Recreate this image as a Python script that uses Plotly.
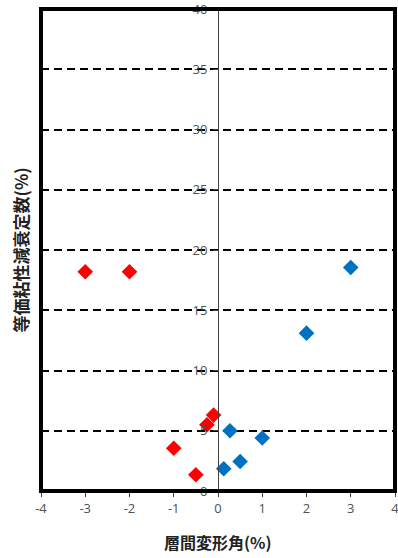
import plotly.graph_objects as go

# Data
red_x = [-3.0, -2.0, -1.0, -0.5, -0.25, -0.1]
red_y = [18.2, 18.2, 3.55, 1.35, 5.5, 6.3]
blue_x = [0.13, 0.27, 0.5, 1.0, 2.0, 3.0]
blue_y = [1.85, 5.0, 2.45, 4.4, 13.1, 18.55]

x_ticks = [-4, -3, -2, -1, 0, 1, 2, 3, 4]
y_ticks = [0, 5, 10, 15, 20, 25, 30, 35, 40]
x_title = "層間変形角(%)"
y_title = "等価粘性減衰定数(%)"

tick_font = dict(family="Open Sans, Liberation Sans, sans-serif", size=13, color="#505050")
x_title_font = dict(family="Noto Sans CJK JP", size=16, color="#222222", weight="bold")
y_title_font = dict(family="Noto Sans CJK JP", size=17, color="#222222", weight="bold")

fig = go.Figure()
fig.add_trace(go.Scatter(x=red_x, y=red_y, mode="markers",
                         marker=dict(symbol="diamond", size=12, color="#FF0000"),
                         showlegend=False))
fig.add_trace(go.Scatter(x=blue_x, y=blue_y, mode="markers",
                         marker=dict(symbol="diamond", size=12, color="#0070C0"),
                         showlegend=False))

fig.update_layout(
    width=398, height=558,
    margin=dict(l=41, r=3, t=9, b=67),
    paper_bgcolor="white", plot_bgcolor="white",
    xaxis=dict(range=[-4, 4], tickvals=x_ticks, ticktext=[str(v) for v in x_ticks],
               automargin=False, ticklabeloverflow="allow",
               showgrid=False, zeroline=False, showline=False,
               ticks="outside", ticklen=5, tickcolor="#404040", tickwidth=1,
               tickfont=tick_font),
    yaxis=dict(range=[0, 40], tickvals=y_ticks, ticktext=[str(v) for v in y_ticks],
               anchor="free", position=0.5, automargin=False, ticklabeloverflow="allow",
               showgrid=True, gridcolor="black", gridwidth=1.5, griddash="8px,5px",
               zeroline=False, showline=True, linecolor="#404040", linewidth=1,
               ticks="outside", ticklen=5, tickcolor="#404040", tickwidth=1,
               tickfont=tick_font, ticklabelstandoff=3),
    annotations=[
        dict(text=y_title, textangle=-90, xref="paper", yref="paper",
             x=-0.058, y=0.5, xanchor="center", yanchor="middle",
             showarrow=False, font=y_title_font),
        dict(text=x_title, xref="paper", yref="paper",
             x=0.5, y=-0.105, xanchor="center", yanchor="middle",
             showarrow=False, font=x_title_font),
    ],
    shapes=[dict(type="rect", xref="paper", yref="paper", x0=0, x1=1, y0=0, y1=1,
                 line=dict(color="black", width=4), layer="above")],
)

fig.write_html("out.html", config={"displayModeBar": False},
               post_script="document.body.style.margin='0';")
